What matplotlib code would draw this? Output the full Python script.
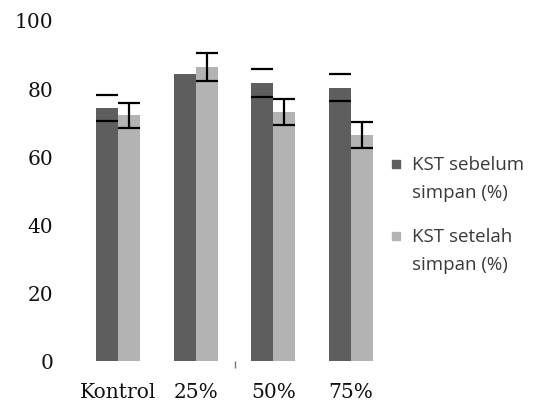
import matplotlib
matplotlib.use("Agg")
import matplotlib.pyplot as plt
import numpy as np
from matplotlib.patches import Rectangle

categories = ["Kontrol", "25%", "50%", "75%"]
series_names = ["KST sebelum\nsimpan (%)", "KST setelah\nsimpan (%)"]
sebelum = [74.2, 84.3, 81.4, 80.2]
sebelum_err = [3.8, 0.0, 4.1, 4.1]
setelah = [72.0, 86.3, 73.0, 66.3]
setelah_err = [3.8, 4.1, 3.8, 3.9]
yticks = [0, 20, 40, 60, 80, 100]

dark = "#5e5e5e"
light = "#b3b3b3"

fig = plt.figure(figsize=(5.35, 4.06), dpi=100)
ax = fig.add_axes([71.4/535, 44/406, (397.6-71.4)/535, (362-21)/406])

x = np.arange(len(categories))
w = 0.285
ax.bar(x - w/2, sebelum, w, color=dark)
ax.bar(x + w/2, setelah, w, color=light)
# dark series: caps only (as in reference)
m = np.array(sebelum_err) > 0
ax.errorbar((x - w/2)[m], np.array(sebelum)[m], yerr=np.array(sebelum_err)[m],
            fmt="none", ecolor="black", elinewidth=0, capsize=8, capthick=1.6)
ax.errorbar(x + w/2, setelah, yerr=setelah_err, fmt="none", ecolor="black",
            elinewidth=1.6, capsize=8, capthick=1.6)

ax.set_xlim(-0.6, 3.6)
ax.set_ylim(0, 100)
for s in ax.spines.values():
    s.set_visible(False)
ax.set_yticks(yticks)
ax.set_yticklabels([str(v) for v in yticks], family="DejaVu Serif", fontsize=14.5,
                   color="#111111")
ax.set_xticks(x)
ax.set_xticklabels(categories, family="DejaVu Serif", fontsize=14.5, color="#111111")
ax.tick_params(axis="y", length=0, pad=13)
ax.tick_params(axis="x", length=0, pad=15)
ax.set_xticks([1.5], minor=True)
ax.tick_params(axis="x", which="minor", length=5, width=1, color="#777777")

# legend
cols = [dark, light]
ys = [165, 237]
for name, c, yy in zip(series_names, cols, ys):
    fig.patches.append(Rectangle((392/535, 1 - (yy + 4)/406), 8/535, 8/406,
                                 transform=fig.transFigure, color=c))
    lines = name.split("\n")
    fig.text(412/535, 1 - yy/406, lines[0], fontsize=13.5, family="Open Sans",
             color="#3a3a3a", va="center", ha="left")
    fig.text(412/535, 1 - (yy + 28)/406, lines[1], fontsize=13.5, family="Open Sans",
             color="#3a3a3a", va="center", ha="left")

fig.savefig("out.png", dpi=100)
